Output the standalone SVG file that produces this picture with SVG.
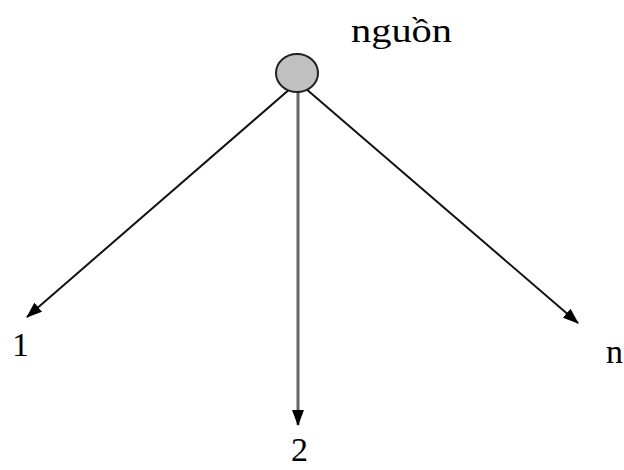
<svg xmlns="http://www.w3.org/2000/svg" width="624" height="470" viewBox="0 0 624 470">
<style>
.lbl{font-family:"Liberation Serif","Times New Roman",serif;font-size:34px;fill:#000}
.edge{stroke:#111;stroke-width:2;fill:none}
</style>
<defs>
<marker id="ah" markerUnits="userSpaceOnUse" markerWidth="16" markerHeight="12" refX="15" refY="6" orient="auto">
<path d="M0,0 L16,6 L0,12 Z" fill="#000"/>
</marker>
</defs>
<rect width="624" height="470" fill="#fff"/>
<g id="connectors">
<line class="edge" x1="291" y1="88" x2="27" y2="317" marker-end="url(#ah)"/>
<line class="edge" x1="298" y1="90" x2="298" y2="425" style="stroke:#666;stroke-width:3" marker-end="url(#ah)"/>
<line class="edge" x1="305" y1="88" x2="578" y2="323" marker-end="url(#ah)"/>
</g>
<g id="source">
<ellipse cx="297" cy="73" rx="21" ry="19" fill="#c0c0c0" stroke="#222" stroke-width="2"/>
<text class="lbl" x="351" y="42" textLength="101" lengthAdjust="spacingAndGlyphs">nguồn</text>
</g>
<g id="node1"><text class="lbl" x="12" y="356">1</text></g>
<g id="node2"><text class="lbl" x="291" y="461">2</text></g>
<g id="noden"><text class="lbl" x="606" y="363">n</text></g>
</svg>
